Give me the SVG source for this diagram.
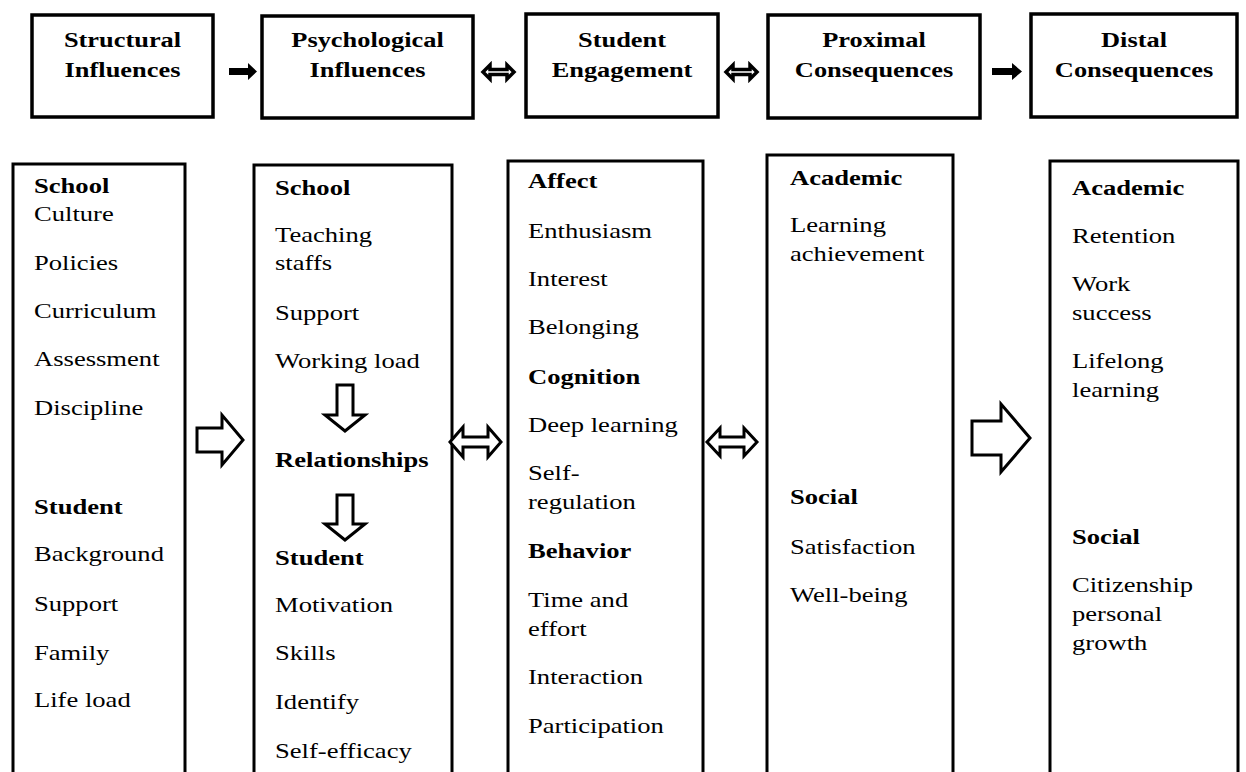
<svg xmlns="http://www.w3.org/2000/svg" width="1246" height="772" viewBox="0 0 1246 772">
<style>
.hb{fill:#fff;stroke:#000;stroke-width:3.5}
.cb{fill:#fff;stroke:#000;stroke-width:3}
.ht{font-family:"Liberation Serif","Times New Roman",serif;font-size:20px;font-weight:bold;fill:#000;text-anchor:middle}
.t{font-family:"Liberation Serif","Times New Roman",serif;font-size:20px;fill:#000}
.b{font-weight:bold}
.ha{fill:#000}
.hd{fill:#fff;stroke:#000;stroke-width:3.5;stroke-linejoin:miter}
.ho{fill:#fff;stroke:#000;stroke-width:3;stroke-linejoin:miter}
</style>
<rect width="1246" height="772" fill="#fff"/>

<g id="h1"><rect class="hb" x="32" y="15" width="181" height="102"/>
<g transform="translate(122.5,0) scale(1.32,1)"><text class="ht" x="0" y="47">Structural</text><text class="ht" x="0" y="77">Influences</text></g></g>
<g id="h2"><rect class="hb" x="262" y="16" width="211" height="102"/>
<g transform="translate(367.5,0) scale(1.32,1)"><text class="ht" x="0" y="47">Psychological</text><text class="ht" x="0" y="77">Influences</text></g></g>
<g id="h3"><rect class="hb" x="526" y="14" width="192" height="103"/>
<g transform="translate(622,0) scale(1.32,1)"><text class="ht" x="0" y="47">Student</text><text class="ht" x="0" y="77">Engagement</text></g></g>
<g id="h4"><rect class="hb" x="768" y="15" width="212" height="103"/>
<g transform="translate(874,0) scale(1.32,1)"><text class="ht" x="0" y="47">Proximal</text><text class="ht" x="0" y="77">Consequences</text></g></g>
<g id="h5"><rect class="hb" x="1031" y="14" width="206" height="103"/>
<g transform="translate(1134,0) scale(1.32,1)"><text class="ht" x="0" y="47">Distal</text><text class="ht" x="0" y="77">Consequences</text></g></g>

<g id="c1"><rect class="cb" x="13" y="164" width="172" height="640"/>
<g transform="translate(34,0) scale(1.33,1)">
<text class="t b" x="0" y="193">School</text>
<text class="t" x="0" y="221">Culture</text>
<text class="t" x="0" y="270">Policies</text>
<text class="t" x="0" y="318">Curriculum</text>
<text class="t" x="0" y="366">Assessment</text>
<text class="t" x="0" y="415">Discipline</text>
<text class="t b" x="0" y="514">Student</text>
<text class="t" x="0" y="561">Background</text>
<text class="t" x="0" y="611">Support</text>
<text class="t" x="0" y="660">Family</text>
<text class="t" x="0" y="707">Life load</text>
</g></g>

<g id="c2"><rect class="cb" x="254" y="165" width="198" height="640"/>
<g transform="translate(275,0) scale(1.33,1)">
<text class="t b" x="0" y="195">School</text>
<text class="t" x="0" y="242">Teaching</text>
<text class="t" x="0" y="270">staffs</text>
<text class="t" x="0" y="320">Support</text>
<text class="t" x="0" y="368">Working load</text>
<text class="t b" x="0" y="467">Relationships</text>
<text class="t b" x="0" y="565">Student</text>
<text class="t" x="0" y="612">Motivation</text>
<text class="t" x="0" y="660">Skills</text>
<text class="t" x="0" y="709">Identify</text>
<text class="t" x="0" y="758">Self-efficacy</text>
</g>
<path class="ho" d="M337,385 H353 V415 H365 L345,431 L325,415 H337 Z"/>
<path class="ho" d="M337,495 H353 V524 H365 L345,540 L325,524 H337 Z"/>
</g>

<g id="c3"><rect class="cb" x="508" y="161" width="195" height="640"/>
<g transform="translate(528,0) scale(1.33,1)">
<text class="t b" x="0" y="188">Affect</text>
<text class="t" x="0" y="238">Enthusiasm</text>
<text class="t" x="0" y="286">Interest</text>
<text class="t" x="0" y="334">Belonging</text>
<text class="t b" x="0" y="384">Cognition</text>
<text class="t" x="0" y="432">Deep learning</text>
<text class="t" x="0" y="480">Self-</text>
<text class="t" x="0" y="509">regulation</text>
<text class="t b" x="0" y="558">Behavior</text>
<text class="t" x="0" y="607">Time and</text>
<text class="t" x="0" y="636">effort</text>
<text class="t" x="0" y="684">Interaction</text>
<text class="t" x="0" y="733">Participation</text>
</g></g>

<g id="c4"><rect class="cb" x="767" y="155" width="186" height="650"/>
<g transform="translate(790,0) scale(1.33,1)">
<text class="t b" x="0" y="185">Academic</text>
<text class="t" x="0" y="232">Learning</text>
<text class="t" x="0" y="261">achievement</text>
<text class="t b" x="0" y="504">Social</text>
<text class="t" x="0" y="554">Satisfaction</text>
<text class="t" x="0" y="602">Well-being</text>
</g></g>

<g id="c5"><rect class="cb" x="1050" y="161" width="188" height="645"/>
<g transform="translate(1072,0) scale(1.33,1)">
<text class="t b" x="0" y="195">Academic</text>
<text class="t" x="0" y="243">Retention</text>
<text class="t" x="0" y="291">Work</text>
<text class="t" x="0" y="320">success</text>
<text class="t" x="0" y="368">Lifelong</text>
<text class="t" x="0" y="397">learning</text>
<text class="t b" x="0" y="544">Social</text>
<text class="t" x="0" y="592">Citizenship</text>
<text class="t" x="0" y="621">personal</text>
<text class="t" x="0" y="650">growth</text>
</g></g>

<g id="connectors">
<path class="ha" d="M229,68 H248 V63 L257,71.5 L248,80 V75 H229 Z"/>
<path class="hd" d="M483,72 L490,65 V69.5 H507 V65 L514,72 L507,79 V74.5 H490 V79 Z"/>
<path class="hd" d="M726,72 L733,65 V69.5 H750 V65 L757,72 L750,79 V74.5 H733 V79 Z"/>
<path class="ha" d="M992,68 H1012 V63 L1022,71.5 L1012,80 V75 H992 Z"/>
<path class="ho" d="M197,428 H222 V415 L243,440 L222,465 V452 H197 Z"/>
<path class="ho" d="M450,442 L463,427 V437 H488 V427 L501,442 L488,457 V447 H463 V457 Z"/>
<path class="ho" d="M707,442 L720,428 V437 H744 V428 L757,442 L744,456 V447 H720 V456 Z"/>
<path class="ho" d="M972,421 H1001 V404 L1030,438 L1001,472 V455 H972 Z"/>
</g>
</svg>
